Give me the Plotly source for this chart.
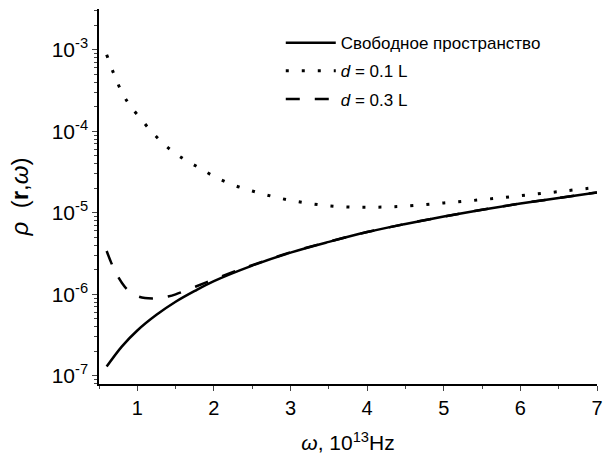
import plotly.graph_objects as go

# Free space
x_free = [0.6, 0.8, 1.0, 1.25, 1.5, 1.75, 2.0, 2.5, 3.0, 3.5, 4.0, 4.5, 5.0, 5.5, 6.0, 6.5, 7.0]
y_free = [1.3e-7, 2.3e-7, 3.6e-7, 5.6e-7, 8.1e-7, 1.1e-6, 1.45e-6, 2.25e-6, 3.25e-6, 4.4e-6,
          5.8e-6, 7.3e-6, 9.0e-6, 1.09e-5, 1.3e-5, 1.52e-5, 1.77e-5]

# d = 0.1 L
x_d01 = [0.6, 0.7, 0.8, 0.9, 1.0, 1.2, 1.4, 1.6, 1.8, 2.0, 2.25, 2.5, 2.75, 3.0, 3.25, 3.5,
         3.75, 4.0, 4.25, 4.5, 5.0, 5.5, 6.0, 6.5, 7.0]
y_d01 = [8.7e-4, 4.9e-4, 3.0e-4, 2.1e-4, 1.6e-4, 9.6e-5, 6.3e-5, 4.6e-5, 3.6e-5, 2.8e-5,
         2.2e-5, 1.85e-5, 1.6e-5, 1.42e-5, 1.3e-5, 1.22e-5, 1.18e-5, 1.17e-5, 1.18e-5,
         1.21e-5, 1.32e-5, 1.45e-5, 1.62e-5, 1.82e-5, 2.05e-5]

# d = 0.3 L
x_d03 = [0.6, 0.7, 0.8, 0.9, 1.0, 1.1, 1.2, 1.3, 1.4, 1.5, 1.7, 1.9, 2.2, 2.5, 3.0, 3.5,
         4.0, 4.5, 5.0, 5.5, 6.0, 6.5, 7.0]
y_d03 = [3.4e-6, 2.0e-6, 1.38e-6, 1.07e-6, 9.5e-7, 9.0e-7, 8.9e-7, 9.0e-7, 9.4e-7, 1.0e-6,
         1.18e-6, 1.4e-6, 1.8e-6, 2.28e-6, 3.27e-6, 4.42e-6, 5.8e-6, 7.3e-6, 9.0e-6,
         1.09e-5, 1.3e-5, 1.52e-5, 1.78e-5]

names = ["Свободное пространство", "<i>d</i> = 0.1 L", "<i>d</i> = 0.3 L"]

x_ticks = [1, 2, 3, 4, 5, 6, 7]
y_tickvals = [1e-7, 1e-6, 1e-5, 1e-4, 1e-3]
y_ticktext = ["10<sup>-7</sup>", "10<sup>-6</sup>", "10<sup>-5</sup>", "10<sup>-4</sup>", "10<sup>-3</sup>"]

FONT = "Liberation Sans, Arial, sans-serif"

fig = go.Figure()
fig.add_trace(go.Scatter(x=x_free, y=y_free, mode="lines", name=names[0], legendgroup="a",
                         line=dict(color="black", width=2.5, shape="spline")))
fig.add_trace(go.Scatter(x=x_d01, y=y_d01, mode="lines", name=names[1], legendgroup="b",
                         line=dict(color="black", width=3, dash="3px,13px", shape="spline")))
fig.add_trace(go.Scatter(x=x_d03, y=y_d03, mode="lines", name=names[2], legendgroup="c",
                         line=dict(color="black", width=2.5, dash="14px,15px", shape="spline")))

fig.update_layout(
    width=611, height=455,
    margin=dict(l=99, r=14, t=9, b=71),
    paper_bgcolor="white", plot_bgcolor="white",
    font=dict(family=FONT, color="black"),
    showlegend=True,
    legend=dict(x=0.365, y=0.957, xanchor="left", yanchor="top",
                bgcolor="rgba(0,0,0,0)", font=dict(size=17, family=FONT),
                tracegroupgap=3, itemwidth=50),
    xaxis=dict(
        range=[0.5, 7.0], tickvals=x_ticks, ticks="outside", ticklen=5, tickwidth=1.2,
        showline=True, linecolor="black", linewidth=1.5, showgrid=False, zeroline=False,
        automargin=False,
        tickfont=dict(size=20, family=FONT),
        minor=dict(ticks="outside", ticklen=3, dtick=0.5, tickwidth=1.2, showgrid=False),
        title=dict(text="<i>ω</i>, 10<sup>13</sup>Hz", font=dict(size=21, family=FONT), standoff=18),
    ),
    yaxis=dict(
        type="log", range=[-7.1, -2.5], tickvals=y_tickvals, ticktext=y_ticktext,
        ticks="outside", ticklen=5, tickwidth=1.2,
        showline=True, linecolor="black", linewidth=1.5, showgrid=False, zeroline=False,
        automargin=False,
        tickfont=dict(size=21, family=FONT),
        minor=dict(ticks="outside", ticklen=3, tickwidth=1, showgrid=False, dtick="D1"),
        title=dict(text="<i>ρ</i>  (<b>r</b>,<i>ω</i>)", font=dict(size=24, family=FONT), standoff=16),
    ),
)

fig.write_html("out.html")
